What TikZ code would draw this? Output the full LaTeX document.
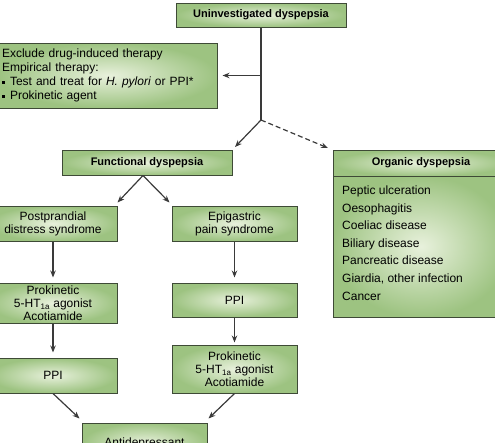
\documentclass[tikz,border=0pt]{standalone}
\usepackage{fontspec}
\setmainfont{Liberation Sans}
\usetikzlibrary{arrows.meta}
\definecolor{boxedge}{HTML}{3E4A36}
\definecolor{boxout}{HTML}{9DC381}
\definecolor{boxin}{HTML}{E8F1DC}
\definecolor{linegrey}{HTML}{3A3A3A}
\tikzset{
  box/.style={draw=boxedge, line width=1pt, shade, inner color=boxin, outer color=boxout,
    align=center, inner sep=2pt, font=\fontsize{12}{13}\selectfont},
  headbox/.style={box, font=\fontsize{11}{13}\selectfont\bfseries},
  arr/.style={draw=linegrey, line width=1.2pt, -{Stealth[length=7pt,width=5.5pt]}},
}
\newcommand{\sqbullet}{\rule[2pt]{3pt}{3pt}\hspace{5pt}}
\begin{document}
\begin{tikzpicture}[x=1pt,y=-1pt]
   \useasboundingbox (0,0) rectangle (495,442);
   \clip (0,0) rectangle (495,442);

   % top of the chart
   \node[headbox, minimum width=170pt, minimum height=24pt] (uninv) at (261,15) {Uninvestigated dyspepsia};
   \node[box, minimum width=218pt, minimum height=65pt, text width=212pt, align=left,
     font=\fontsize{12}{14}\selectfont] (excl) at (108,75.5)
     {Exclude drug-induced therapy\\Empirical therapy:\\\sqbullet Test and treat for \textit{H. pylori} or PPI*\\\sqbullet Prokinetic agent};
   \coordinate (branch) at (261,120);
   \coordinate (funcin) at (235,147);
   \coordinate (orgin) at (328,148);

   % functional side
   \node[headbox, minimum width=170pt, minimum height=25pt] (func) at (147,162.5) {Functional dyspepsia};
   \node[box, minimum width=128pt, minimum height=35pt] (post) at (53,223.5) {Postprandial\\distress syndrome};
   \node[box, minimum width=125pt, minimum height=35pt] (epi) at (234.5,223.5) {Epigastric\\pain syndrome};
   \node[box, minimum width=128pt, minimum height=40pt] (prokA) at (53,303) {Prokinetic\\5-HT\textsubscript{1a} agonist\\Acotiamide};
   \node[box, minimum width=125pt, minimum height=34pt] (ppiB) at (234.5,300) {PPI};
   \node[box, minimum width=128pt, minimum height=35pt] (ppiA) at (53,375.5) {PPI};
   \node[box, minimum width=125pt, minimum height=48pt] (prokB) at (234.5,369) {Prokinetic\\5-HT\textsubscript{1a} agonist\\Acotiamide};
   \node[box, minimum width=125pt, minimum height=40pt] (anti) at (144.5,443) {Antidepressant};

   % organic side
   \node[headbox, minimum width=176pt, minimum height=26pt] (orghead) at (421,163) {Organic dyspepsia};
   \node[box, minimum width=176pt, minimum height=141pt] (org) at (421,246.5) {};
   \node[anchor=north west, align=left, inner sep=0pt, font=\fontsize{12}{17.6}\selectfont] (orglist) at (342,185.5)
     {Peptic ulceration\\Oesophagitis\\Coeliac disease\\Biliary disease\\Pancreatic disease\\Giardia, other infection\\Cancer};

   % connectors
   \draw[draw=linegrey, line width=1.2pt] (uninv.south) -- (branch);
   \draw[arr] (uninv.south |- excl.east) -- ([xshift=5pt]excl.east);
   \draw[arr] (branch) -- (funcin);
   \draw[arr, dash pattern=on 5pt off 3pt] (branch) -- (orgin);
   \draw[arr] ([xshift=-4pt]func.south) -- ([yshift=3pt]post.north east);
   \draw[arr] ([xshift=-4pt]func.south) -- ([shift={(-2pt,3pt)}]epi.north west);
   \draw[arr, shorten >=5pt] (post) -- (prokA);
   \draw[arr, shorten >=5pt] (epi) -- (ppiB);
   \draw[arr, shorten >=5pt] (prokA) -- (ppiA);
   \draw[arr, shorten >=2pt] (ppiB) -- (prokB);
   \draw[arr] (ppiA.south) -- ([shift={(-2pt,4pt)}]anti.north west);
   \draw[arr] (prokB.south) -- ([shift={(1pt,4pt)}]anti.north east);
\end{tikzpicture}
\end{document}
